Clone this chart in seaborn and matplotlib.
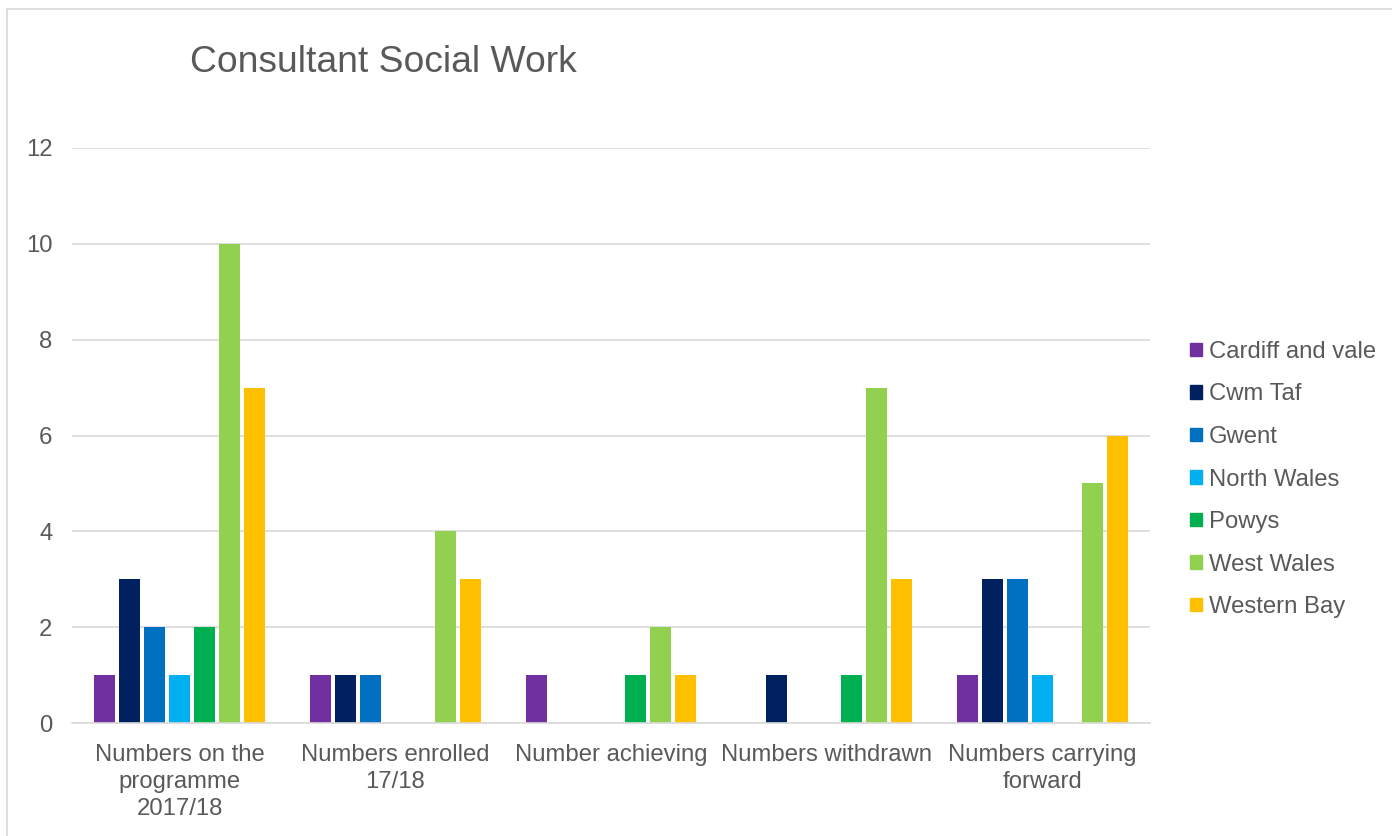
import matplotlib
matplotlib.use("Agg")
import matplotlib.pyplot as plt
import matplotlib.patches as mpatches
import seaborn as sns
import pandas as pd

categories = ["Numbers on the\nprogramme\n2017/18", "Numbers enrolled\n17/18",
              "Number achieving", "Numbers withdrawn", "Numbers carrying\nforward"]
regions = ["Cardiff and vale", "Cwm Taf", "Gwent", "North Wales", "Powys",
           "West Wales", "Western Bay"]
cardiff = [1, 1, 1, 0, 1]
cwm_taf = [3, 1, 0, 1, 3]
gwent = [2, 1, 0, 0, 3]
north_wales = [1, 0, 0, 0, 1]
powys = [2, 0, 1, 1, 0]
west_wales = [10, 4, 2, 7, 5]
western_bay = [7, 3, 1, 3, 6]
colors = ["#7030A0", "#002060", "#0070C0", "#00B0F0", "#00B050", "#92D050", "#FFC000"]

series = [cardiff, cwm_taf, gwent, north_wales, powys, west_wales, western_bay]
rows = []
for reg, vals in zip(regions, series):
    for cat, v in zip(categories, vals):
        rows.append({"category": cat, "region": reg, "value": v})
df = pd.DataFrame(rows)

sns.set_style("white")
plt.rcParams['font.family'] = ['Liberation Sans', 'DejaVu Sans']
grey = "#595959"
fs = 17.2

fig = plt.figure(figsize=(13.92, 8.36), dpi=100)
ax = fig.add_axes([72/1392, 1-723/836, (1150-72)/1392, (723-148)/836])

sns.barplot(data=df, x="category", y="value", hue="region", hue_order=regions,
            order=categories, palette=colors, saturation=1, width=0.81, gap=0.16,
            linewidth=0, ax=ax, legend=False)

ax.set_ylim(0, 12)
ax.set_yticks(range(0, 13, 2))
ax.set_xlim(-0.5, 4.5)
ax.set_xlabel("")
ax.set_ylabel("")
ax.grid(axis="y", color="#d9d9d9", linewidth=1.2)
ax.set_axisbelow(True)
for s in ["top", "right", "left"]:
    ax.spines[s].set_visible(False)
ax.spines["bottom"].set_color("#d9d9d9")
ax.spines["bottom"].set_linewidth(1.2)
ax.tick_params(axis="y", length=0, pad=14, labelsize=fs, labelcolor=grey)
ax.tick_params(axis="x", length=0, pad=15, labelsize=fs, labelcolor=grey)
for lbl in ax.get_xticklabels():
    lbl.set_linespacing(1.30)

handles = [mpatches.Patch(color=c, label=r) for c, r in zip(colors, regions)]
leg = fig.legend(handles=handles, loc="center left",
                 bbox_to_anchor=(1190/1392, 1-479.5/836), frameon=False,
                 fontsize=fs, handlelength=0.5, handleheight=0.5,
                 handletextpad=0.3, labelspacing=0.86, borderpad=0, borderaxespad=0)
for t in leg.get_texts():
    t.set_color(grey)

fig.text(190/1392, 1-63/836, "Consultant Social Work", fontsize=26.8,
         color=grey, ha="left", va="center")

fig.patches.append(mpatches.Rectangle((7/1392, -0.05), 1.1, 1-9/836+0.05,
                                      transform=fig.transFigure, fill=False,
                                      edgecolor="#d9d9d9", linewidth=1.2))

fig.savefig("out.png", dpi=100)
